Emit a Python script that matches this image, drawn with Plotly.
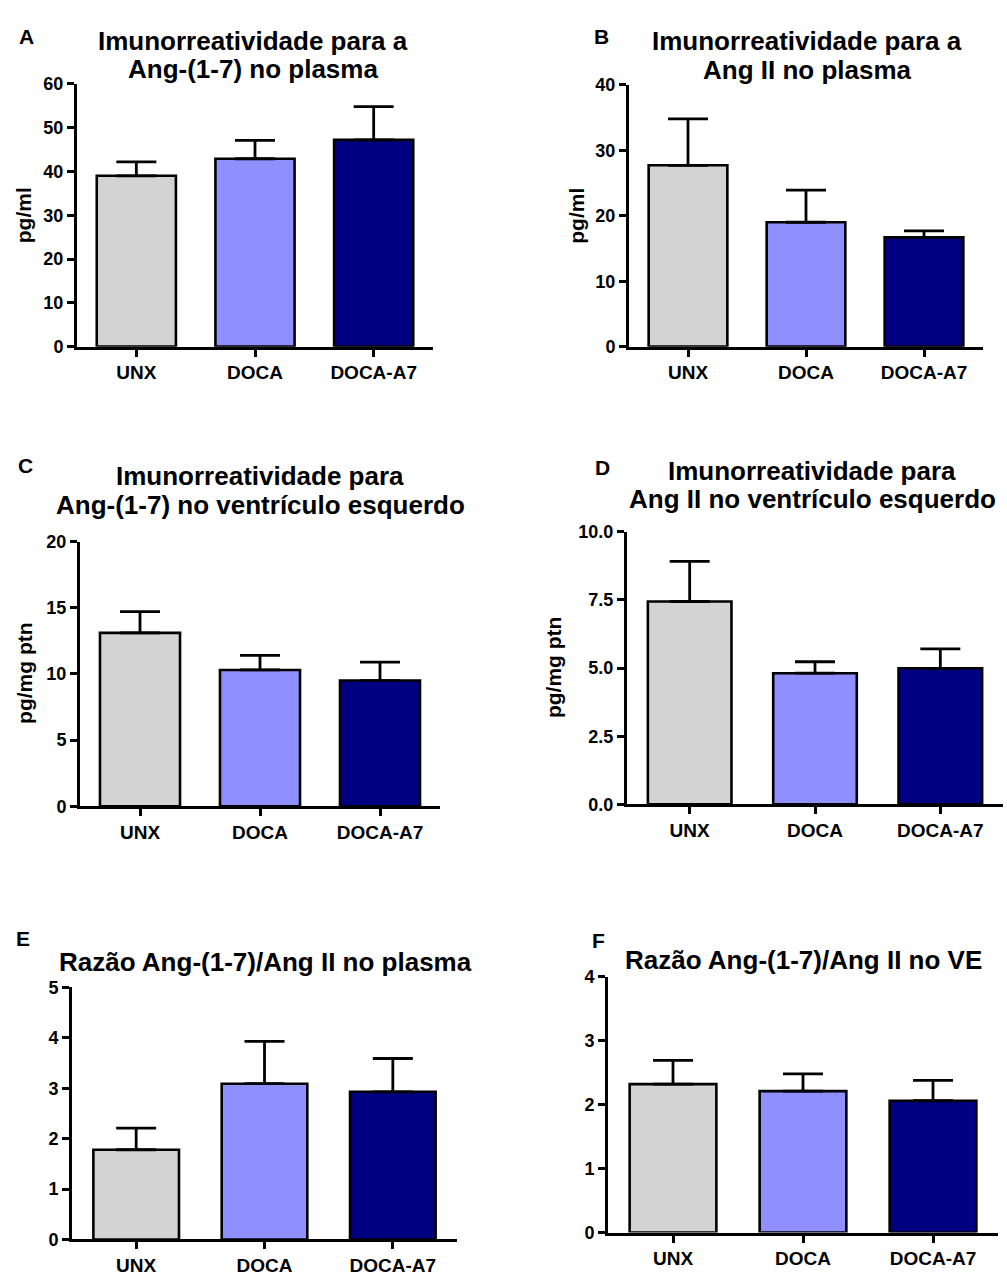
import plotly.graph_objects as go

W, H = 1007, 1278

categories = ["UNX", "DOCA", "DOCA-A7"]
bar_colors = ["#D3D3D3", "#8F8FFF", "#000080"]

# Panel A: Ang-(1-7) plasma (pg/ml)
a_mean = [39.0, 42.9, 47.2]
a_sem = [3.2, 4.2, 7.6]
# Panel B: Ang II plasma (pg/ml)
b_mean = [27.7, 19.0, 16.7]
b_sem = [7.1, 4.9, 1.0]
# Panel C: Ang-(1-7) left ventricle (pg/mg ptn)
c_mean = [13.1, 10.3, 9.5]
c_sem = [1.6, 1.1, 1.4]
# Panel D: Ang II left ventricle (pg/mg ptn)
d_mean = [7.44, 4.81, 4.99]
d_sem = [1.47, 0.42, 0.71]
# Panel E: ratio plasma
e_mean = [1.78, 3.09, 2.93]
e_sem = [0.43, 0.84, 0.66]
# Panel F: ratio VE
f_mean = [2.32, 2.21, 2.06]
f_sem = [0.37, 0.27, 0.32]

FONT = "Liberation Sans"

panels = [
    dict(letter="A", title=["Imunorreatividade para a", "Ang-(1-7) no plasma"], ytitle="pg/ml",
         mean=a_mean, sem=a_sem, ymax=60, dtick=10, fmt="",
         xpx=(77, 433), ypx=(75, 342), title_xy=(253, [32, 60]), letter_xy=(26, 27), ytitle_x=23),
    dict(letter="B", title=["Imunorreatividade para a", "Ang II no plasma"], ytitle="pg/ml",
         mean=b_mean, sem=b_sem, ymax=40, dtick=10, fmt="",
         xpx=(629, 983), ypx=(76, 342), title_xy=(807, [32, 61]), letter_xy=(601, 27), ytitle_x=577),
    dict(letter="C", title=["Imunorreatividade para", "Ang-(1-7) no ventrículo esquerdo"], ytitle="pg/mg ptn",
         mean=c_mean, sem=c_sem, ymax=20, dtick=5, fmt="",
         xpx=(80, 440), ypx=(540, 809), title_xy=(260, [473, 503]), letter_xy=(25, 463), ytitle_x=25),
    dict(letter="D", title=["Imunorreatividade para", "Ang II no ventrículo esquerdo"], ytitle="pg/mg ptn",
         mean=d_mean, sem=d_sem, ymax=10, dtick=2.5, fmt=".1f",
         xpx=(627, 1003), ypx=(530, 807), title_xy=(812, [468, 497]), letter_xy=(602, 465), ytitle_x=553),
    dict(letter="E", title=["Razão Ang-(1-7)/Ang II no plasma"], ytitle=None,
         mean=e_mean, sem=e_sem, ymax=5, dtick=1, fmt="",
         xpx=(72, 457), ypx=(993, 1249), title_xy=(265, [967]), letter_xy=(23, 943), ytitle_x=None),
    dict(letter="F", title=["Razão Ang-(1-7)/Ang II no VE"], ytitle=None,
         mean=f_mean, sem=f_sem, ymax=4, dtick=1, fmt="",
         xpx=(608, 998), ypx=(982, 1242), title_xy=(803, [965]), letter_xy=(598, 945), ytitle_x=None),
]

fig = go.Figure()
annotations = []
layout_axes = {}


def px_x(p):
    return p / W


def px_y(p):
    return 1 - p / H


for i, p in enumerate(panels):
    n = i + 1
    xa = "x" if n == 1 else f"x{n}"
    ya = "y" if n == 1 else f"y{n}"
    fig.add_trace(go.Bar(
        x=categories, y=p["mean"], xaxis=xa, yaxis=ya,
        width=0.667,
        marker=dict(color=bar_colors, line=dict(color="black", width=2.6)),
        error_y=dict(type="data", array=p["sem"], arrayminus=[0, 0, 0], symmetric=False,
                     color="black", thickness=2.8, width=20),
        showlegend=False, hoverinfo="skip",
    ))
    xkey = "xaxis" if n == 1 else f"xaxis{n}"
    ykey = "yaxis" if n == 1 else f"yaxis{n}"
    layout_axes[xkey] = dict(
        domain=[px_x(p["xpx"][0]), min(1.0, px_x(p["xpx"][1]))],
        anchor=ya, type="category", range=[-0.5, 2.5],
        showline=True, linecolor="black", linewidth=3,
        ticks="outside", ticklen=7, tickwidth=3, tickcolor="black",
        showgrid=False, zeroline=False,
        tickfont=dict(family=FONT, size=19, color="black", weight="bold"),
        fixedrange=True,
    )
    layout_axes[ykey] = dict(
        domain=[px_y(p["ypx"][1]), px_y(p["ypx"][0])],
        anchor=xa, range=[0, p["ymax"]], dtick=p["dtick"], tick0=0,
        tickformat=p["fmt"],
        showline=True, linecolor="black", linewidth=3,
        ticks="outside", ticklen=7, tickwidth=3, tickcolor="black",
        showgrid=False, zeroline=False,
        tickfont=dict(family=FONT, size=18, color="black", weight="bold"),
        fixedrange=True,
    )
    tx, tys = p["title_xy"]
    for line, ty in zip(p["title"], tys):
        annotations.append(dict(
            text=line, x=px_x(tx), y=px_y(ty), xref="paper", yref="paper",
            xanchor="center", yanchor="middle", showarrow=False,
            font=dict(family=FONT, size=26, color="black", weight="bold"),
        ))
    lx, ly = p["letter_xy"]
    annotations.append(dict(
        text=p["letter"], x=px_x(lx), y=px_y(ly), xref="paper", yref="paper",
        xanchor="center", yanchor="middle", showarrow=False,
        font=dict(family=FONT, size=21, color="black", weight="bold"),
    ))
    if p["ytitle"]:
        annotations.append(dict(
            text=p["ytitle"], x=px_x(p["ytitle_x"]),
            y=px_y((p["ypx"][0] + p["ypx"][1]) / 2), xref="paper", yref="paper",
            xanchor="center", yanchor="middle", showarrow=False, textangle=-90,
            font=dict(family=FONT, size=21, color="black", weight="bold"),
        ))

fig.update_layout(
    width=W, height=H,
    margin=dict(l=0, r=0, t=0, b=0),
    paper_bgcolor="white", plot_bgcolor="white",
    showlegend=False,
    annotations=annotations,
    **layout_axes,
)

# Pin the figure to the window's top-left corner (no default page margin).
pin_js = (
    "document.documentElement.style.margin='0';"
    "document.body.style.margin='0';"
    "var gd=document.getElementsByClassName('plotly-graph-div')[0];"
    "gd.style.position='fixed';gd.style.left='0px';gd.style.top='0px';"
)

fig.write_html("out.html", config={"displayModeBar": False}, post_script=pin_js)
